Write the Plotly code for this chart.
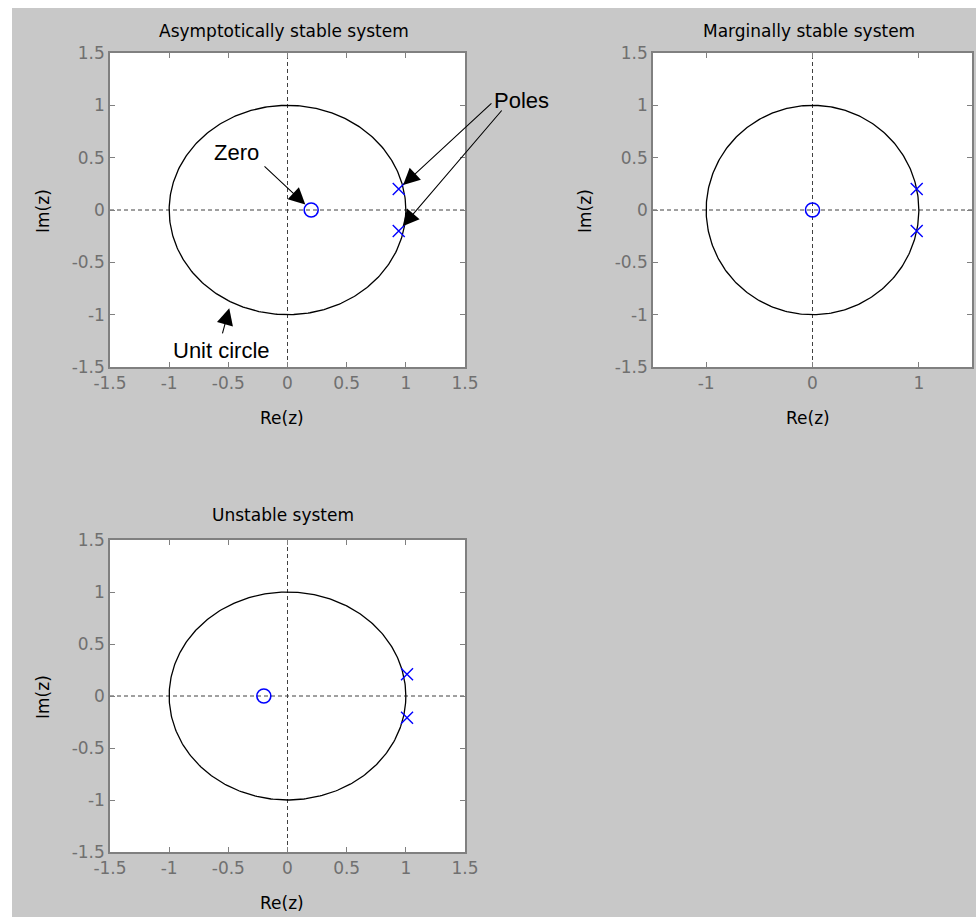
import numpy as np
import plotly.graph_objects as go

W, H = 976, 917

# ---- data -------------------------------------------------------------
titles = ["Asymptotically stable system", "Marginally stable system", "Unstable system"]
zeros_re = [[0.2], [0.0], [-0.2]]
zeros_im = [[0.0], [0.0], [0.0]]
poles_re = [[0.94, 0.94], [0.98, 0.98], [1.01, 1.01]]
poles_im = [[0.2, -0.2], [0.2, -0.2], [0.21, -0.21]]
axis_range = [-1.5, 1.5]
ticks_full = [-1.5, -1, -0.5, 0, 0.5, 1, 1.5]
ticktext_full = ["-1.5", "-1", "-0.5", "0", "0.5", "1", "1.5"]
ticks_marg_x = [-1, 0, 1]
ticktext_marg_x = ["-1", "0", "1"]
x_label, y_label = "Re(z)", "Im(z)"

# ---- layout helpers (pixel boxes: left, right, top, bottom) ------------
boxes = [(110, 465, 53, 367), (653, 972, 53, 367), (110, 465, 540, 852)]


def px_x(p):
    return p / W


def px_y(p):
    return 1 - p / H


theta = np.linspace(0, 2 * np.pi, 361)
circ_x = np.cos(theta)
circ_y = np.sin(theta)

fig = go.Figure()
BLUE = "#0000ff"
TICKCOL = "#707070"
LINECOL = "#808080"

for i in range(3):
    sx = "x" if i == 0 else f"x{i+1}"
    sy = "y" if i == 0 else f"y{i+1}"
    fig.add_trace(go.Scatter(x=axis_range, y=[0, 0], mode="lines", xaxis=sx, yaxis=sy,
                             line=dict(color="#404040", width=1, dash="4px,3px"),
                             hoverinfo="skip", showlegend=False))
    fig.add_trace(go.Scatter(x=[0, 0], y=axis_range, mode="lines", xaxis=sx, yaxis=sy,
                             line=dict(color="#404040", width=1, dash="4px,3px"),
                             hoverinfo="skip", showlegend=False))
    fig.add_trace(go.Scatter(x=circ_x, y=circ_y, mode="lines", xaxis=sx, yaxis=sy,
                             line=dict(color="black", width=1.3),
                             hoverinfo="skip", showlegend=False))
    fig.add_trace(go.Scatter(x=zeros_re[i], y=zeros_im[i], mode="markers", xaxis=sx, yaxis=sy,
                             marker=dict(symbol="circle-open", size=14, color=BLUE,
                                         line=dict(width=1.6, color=BLUE)),
                             showlegend=False, name="Zero"))
    fig.add_trace(go.Scatter(x=poles_re[i], y=poles_im[i], mode="markers", xaxis=sx, yaxis=sy,
                             marker=dict(symbol="x-thin-open", size=12, color=BLUE,
                                         line=dict(width=1.4, color=BLUE)),
                             showlegend=False, name="Poles"))

tickfont = dict(family="DejaVu Sans", size=17, color=TICKCOL)
layout_axes = {}
for i, (l, r, t, b) in enumerate(boxes):
    kx = "xaxis" if i == 0 else f"xaxis{i+1}"
    ky = "yaxis" if i == 0 else f"yaxis{i+1}"
    ax_anchor = "y" if i == 0 else f"y{i+1}"
    ay_anchor = "x" if i == 0 else f"x{i+1}"
    if i == 1:
        xt, xtt = ticks_marg_x, ticktext_marg_x
    else:
        xt, xtt = ticks_full, ticktext_full
    common = dict(showgrid=False, zeroline=False, showline=True, mirror="ticks",
                  linecolor=LINECOL, linewidth=1.5, ticks="inside", ticklen=5,
                  tickcolor=LINECOL, tickwidth=1, tickfont=tickfont, range=axis_range,
                  fixedrange=True, automargin=False)
    layout_axes[kx] = dict(common, domain=[px_x(l), px_x(r)], anchor=ax_anchor,
                           tickvals=xt, ticktext=xtt)
    layout_axes[ky] = dict(common, domain=[px_y(b), px_y(t)], anchor=ay_anchor,
                           tickvals=ticks_full, ticktext=ticktext_full)

annotations = []
txtfont = dict(family="DejaVu Sans", size=17, color="black")
title_pos = [(284, 31), (809, 31), (283, 515)]
xlab_pos = [(282, 418), (808, 418), (282, 903)]
ylab_pos = [(43, 211), (585, 211), (43, 697)]
for i in range(3):
    annotations.append(dict(text=titles[i], x=px_x(title_pos[i][0]), y=px_y(title_pos[i][1]),
                            xref="paper", yref="paper", showarrow=False, font=txtfont,
                            xanchor="center", yanchor="middle"))
    annotations.append(dict(text=x_label, x=px_x(xlab_pos[i][0]), y=px_y(xlab_pos[i][1]),
                            xref="paper", yref="paper", showarrow=False, font=txtfont,
                            xanchor="center", yanchor="middle"))
    annotations.append(dict(text=y_label, x=px_x(ylab_pos[i][0]), y=px_y(ylab_pos[i][1]),
                            xref="paper", yref="paper", showarrow=False, font=txtfont,
                            textangle=-90, xanchor="center", yanchor="middle"))

notefont = dict(family="Liberation Sans", size=22, color="black")
arrow_style = dict(showarrow=True, arrowhead=2, arrowsize=3, arrowwidth=1.1,
                   arrowcolor="black", text="", xref="x", yref="y", axref="x", ayref="y")
annotations.append(dict(text="Zero", x=-0.435, y=0.554, xref="x", yref="y",
                        showarrow=False, font=notefont))
annotations.append(dict(arrow_style, x=zeros_re[0][0], y=zeros_im[0][0], ax=-0.207, ay=0.43,
                        standoff=8))
annotations.append(dict(text="Poles", x=px_x(521), y=px_y(86), xref="paper", yref="paper",
                        showarrow=False, font=notefont))
annotations.append(dict(arrow_style, x=poles_re[0][0], y=poles_im[0][0], ax=1.736, ay=1.032,
                        standoff=6))
annotations.append(dict(arrow_style, x=poles_re[0][1], y=poles_im[0][1], ax=1.821, ay=0.965,
                        standoff=6))
annotations.append(dict(text="Unit circle", x=-0.562, y=-1.338, xref="x", yref="y",
                        showarrow=False, font=notefont))
annotations.append(dict(arrow_style, x=-0.49, y=-0.93, ax=-0.553, ay=-1.194, standoff=1))

shapes = [
    dict(type="rect", xref="paper", yref="paper", x0=0, x1=1, y0=px_y(8), y1=1,
         fillcolor="white", line=dict(width=0), layer="below"),
    dict(type="rect", xref="paper", yref="paper", x0=0, x1=px_x(12), y0=0, y1=1,
         fillcolor="white", line=dict(width=0), layer="below"),
]

fig.update_layout(width=W, height=H, margin=dict(l=0, r=0, t=0, b=0, pad=0, autoexpand=False),
                  paper_bgcolor="#c8c8c8", plot_bgcolor="white",
                  annotations=annotations, shapes=shapes, showlegend=False,
                  font=dict(family="DejaVu Sans", size=17), **layout_axes)

fig.write_html("out.html", config={"displayModeBar": False},
               post_script="document.body.style.margin='0';document.body.style.overflow='hidden';")
